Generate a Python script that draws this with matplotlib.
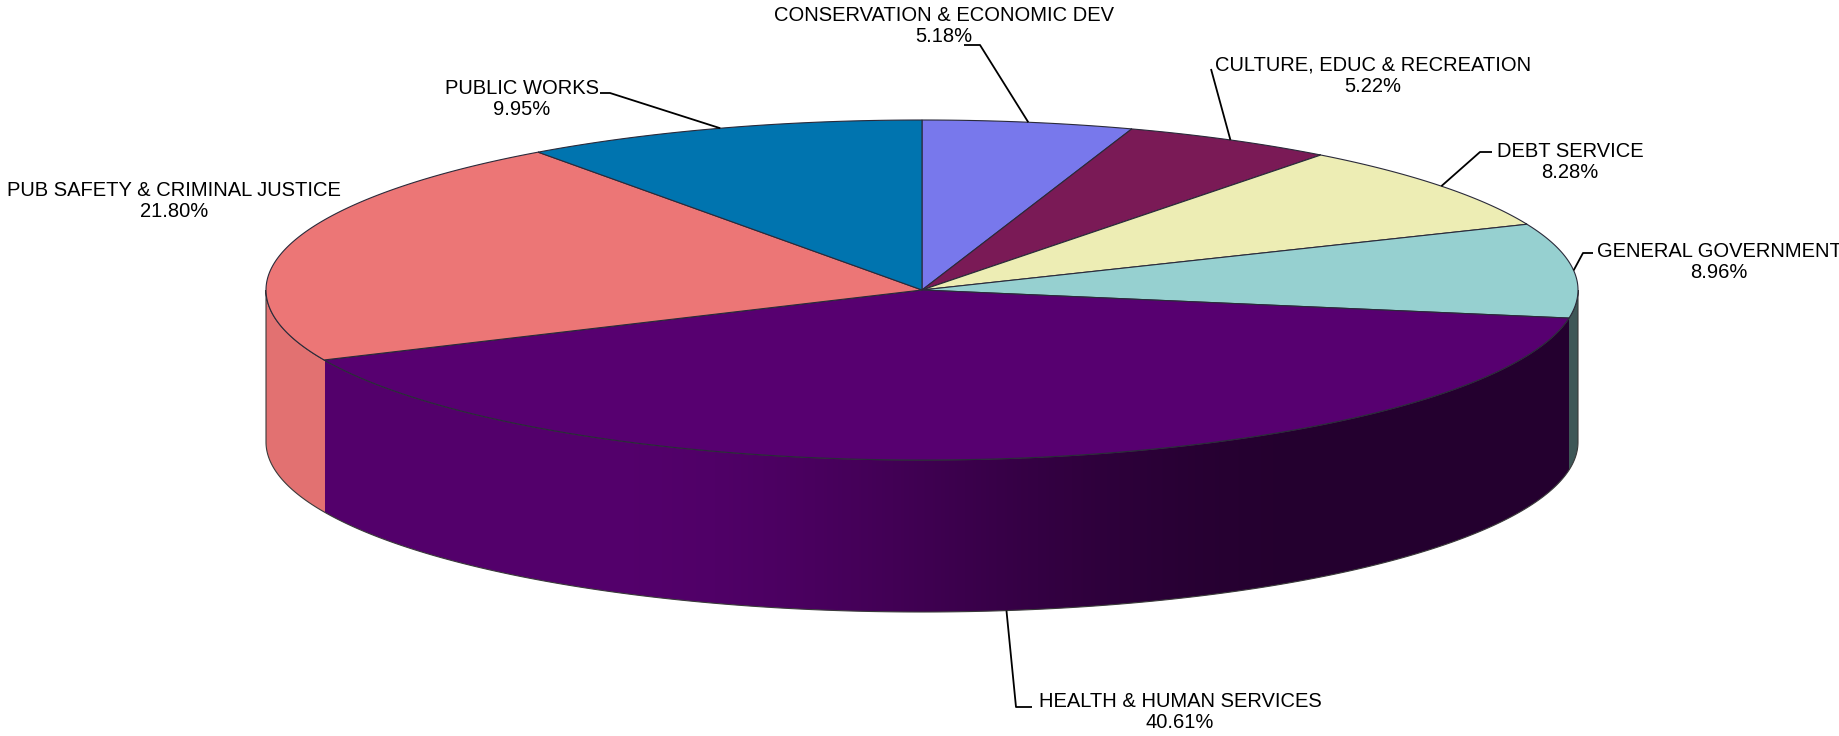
import numpy as np
import matplotlib.pyplot as plt
from matplotlib.patches import Polygon
from matplotlib.colors import to_rgb

plt.rcParams['font.family'] = ['Liberation Sans', 'DejaVu Sans']

# budget shares, clockwise from 12 o'clock
categories = ["CONSERVATION & ECONOMIC DEV", "CULTURE, EDUC & RECREATION", "DEBT SERVICE",
              "GENERAL GOVERNMENT", "HEALTH & HUMAN SERVICES", "PUB SAFETY & CRIMINAL JUSTICE",
              "PUBLIC WORKS"]
shares = [5.18, 5.22, 8.28, 8.96, 40.61, 21.80, 9.95]
colors = ["#7878EC", "#7A1A56", "#EDEDB4", "#96D0D0", "#570070", "#EC7676", "#0074AF"]

# label block centres and leader elbows (pixels)
label_xy = [(944, 26), (1373, 76), (1570, 162), (1719, 262), (1180, 712), (174, 201), (522, 99)]
leader_pts = [[(964, 45), (980, 45)], [(1211, 69)], [(1492, 152), (1480, 152)],
              [(1593, 253), (1583, 253)], [(1032, 707), (1016, 707)], None, [(600, 93), (610, 93)]]

W, H = 1839, 736
cx, cy, rx, ry, depth = 922, 290, 656, 170, 152

fig = plt.figure(figsize=(W / 100, H / 100), dpi=100)
ax = fig.add_axes([0, 0, 1, 1])
ax.set_xlim(0, W)
ax.set_ylim(H, 0)
ax.axis('off')


def ell(theta, dy=0.0):
    return cx + rx * np.sin(theta), cy - ry * np.cos(theta) + dy


frac = np.array(shares) / np.sum(shares)
edges = np.concatenate([[0], np.cumsum(frac)]) * 2 * np.pi

# side wall: front half of the cylinder, shaded left-to-right
t_front = np.linspace(np.pi / 2, 3 * np.pi / 2, 400)
tx, ty = ell(t_front)
bx, by = ell(t_front[::-1], depth)
wall = np.column_stack([np.concatenate([tx, bx]), np.concatenate([ty, by])])
wall_patch = Polygon(wall, closed=True, facecolor='none', edgecolor='#3a3a3a', lw=0.8, zorder=2)
ax.add_patch(wall_patch)

ncol = 2 * rx
xs = np.linspace(cx - rx, cx + rx, ncol)
u = (xs - (cx - rx)) / (2 * rx)
s = np.clip((u - 0.25) / 0.55, 0, 1)
shade = 0.96 - 0.54 * (s * s * (3 - 2 * s))
theta_col = np.pi - np.arcsin(np.clip((xs - cx) / rx, -1, 1))
idx = np.clip(np.searchsorted(edges, theta_col) - 1, 0, len(shares) - 1)
img = np.array([to_rgb(colors[i]) for i in idx]) * shade[:, None]
im = ax.imshow(img[None, :, :], extent=(cx - rx, cx + rx, cy + depth + ry + 2, cy - 2),
               aspect='auto', interpolation='bilinear', zorder=1)
im.set_clip_path(wall_patch)

# top faces
for i, c in enumerate(colors):
    t = np.linspace(edges[i], edges[i + 1], 200)
    x, y = ell(t)
    pts = np.column_stack([np.concatenate([[cx], x]), np.concatenate([[cy], y])])
    ax.add_patch(Polygon(pts, closed=True, facecolor=c, edgecolor='#2a2a3a', lw=0.8, zorder=3))

# labels and leader lines
for i, name in enumerate(categories):
    ax.text(label_xy[i][0], label_xy[i][1], f"{name}\n{shares[i]:.2f}%", ha='center', va='center',
            fontsize=14.5, linespacing=1.18, color='black', zorder=5)
    if leader_pts[i] is None:
        continue
    mid = (edges[i] + edges[i + 1]) / 2
    ax_, ay_ = ell(mid, depth if np.cos(mid) < 0 else 0)
    px = [p[0] for p in leader_pts[i]] + [ax_]
    py = [p[1] for p in leader_pts[i]] + [ay_]
    ax.plot(px, py, color='black', lw=1.3, zorder=4, solid_capstyle='butt')

fig.savefig("out.png", dpi=100)
